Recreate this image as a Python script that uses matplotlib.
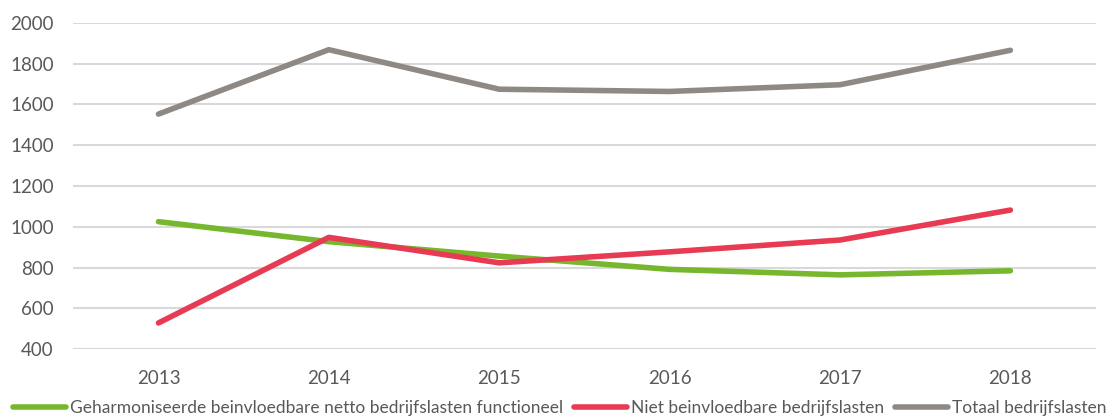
import numpy as np
import matplotlib.pyplot as plt

# gegevens
jaren = ['2013', '2014', '2015', '2016', '2017', '2018']
geharmoniseerd = [1025, 927, 856, 791, 764, 784]
niet_beinvloedbaar = [528, 948, 823, 877, 935, 1082]
totaal = [1553, 1869, 1675, 1664, 1697, 1866]

plt.rcParams['font.family'] = ['Lato', 'DejaVu Sans']

fig = plt.figure(figsize=(11.1, 4.18), dpi=100)
ax = fig.add_axes([0.066, 0.165, 0.921, 0.78])

x = np.arange(len(jaren))
ax.plot(x, geharmoniseerd, color='#76b72d', linewidth=4, solid_capstyle='round',
        label='Geharmoniseerde beinvloedbare netto bedrijfslasten functioneel')
ax.plot(x, niet_beinvloedbaar, color='#e83a52', linewidth=4, solid_capstyle='round',
        label='Niet beinvloedbare bedrijfslasten')
ax.plot(x, totaal, color='#8f8983', linewidth=4, solid_capstyle='round',
        label='Totaal bedrijfslasten')

ax.set_xlim(-0.5, 5.5)
ax.set_ylim(400, 2000)
ax.set_yticks(np.arange(400, 2001, 200))
ax.set_xticks(x)
ax.set_xticklabels(jaren)
ax.grid(axis='y', color='#d9d9d9', linewidth=1.5)
ax.set_axisbelow(True)
for s in ax.spines.values():
    s.set_visible(False)
ax.tick_params(length=0, labelsize=13.5, colors='#595959', pad=14)
ax.tick_params(axis='x', pad=15)

ax.legend(loc='center', bbox_to_anchor=(0.476, -0.18), ncol=3, frameon=False,
          fontsize=12.5, handlelength=3.05, handletextpad=0.25, columnspacing=0.6,
          labelcolor='#595959', borderpad=0)

plt.savefig('out.png', dpi=100)
